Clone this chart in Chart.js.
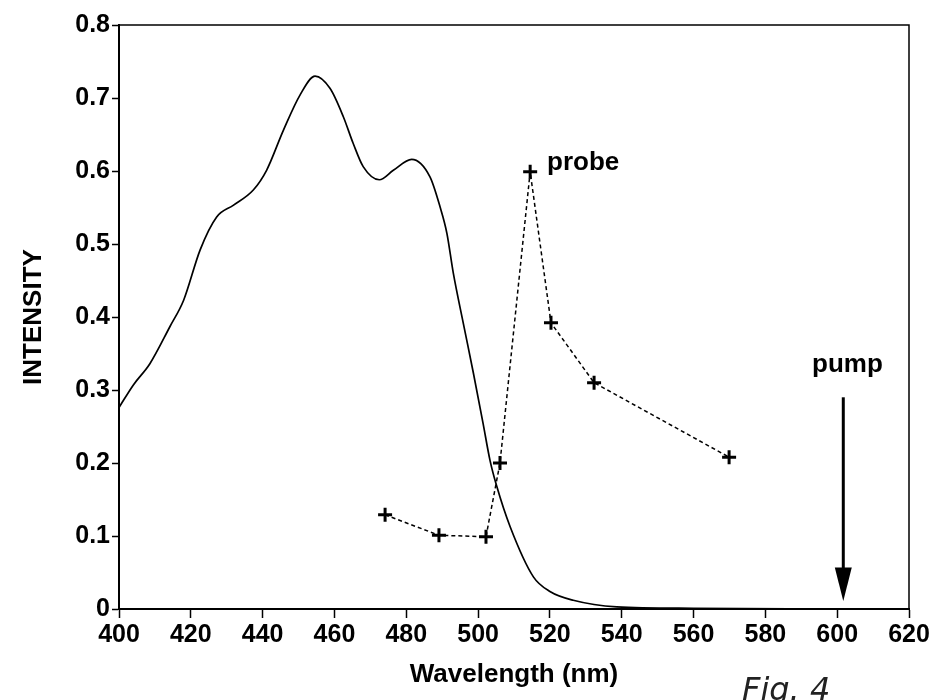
<!DOCTYPE html>
<html>
<head>
<meta charset="utf-8">
<script src="https://cdn.jsdelivr.net/npm/chart.js@4/dist/chart.umd.min.js"></script>
<style>
  html, body { margin: 0; padding: 0; background: #fff; }
  #wrap { width: 943px; height: 700px; position: relative; }
</style>
</head>
<body>
<div id="wrap"><canvas id="c" width="943" height="700"></canvas></div>
<script>
// Solid curve: wavelength (nm) and intensity
const spectrumWavelength = [400, 404, 408.6, 414.2, 418, 422.6, 427.2, 431.8, 437.4, 441.1, 445.8, 450.4, 454.6, 458.8, 462.5, 465.2, 468, 472.5, 476.4, 481.5, 486.6, 489.4, 491.3, 493.1, 495.9, 498.7, 501.4, 503.3, 505.2, 508.9, 515.4, 520, 526.5, 538.6, 560, 600];
const spectrumIntensity  = [0.276, 0.307, 0.336, 0.387, 0.423, 0.492, 0.537, 0.553, 0.574, 0.601, 0.656, 0.704, 0.730, 0.713, 0.674, 0.638, 0.606, 0.588, 0.601, 0.616, 0.592, 0.551, 0.515, 0.460, 0.391, 0.323, 0.254, 0.204, 0.168, 0.113, 0.044, 0.024, 0.012, 0.003, 0.001, 0];

// Probe points (dashed, + markers)
const probeWavelength = [474.1, 489.1, 502.2, 506.1, 514.5, 520.3, 532.3, 569.9];
const probeIntensity  = [0.129, 0.101, 0.099, 0.200, 0.599, 0.392, 0.310, 0.208];

// Axis ticks
const xTicks = [400, 420, 440, 460, 480, 500, 520, 540, 560, 580, 600, 620];
const yTicks = [0, 0.1, 0.2, 0.3, 0.4, 0.5, 0.6, 0.7, 0.8];
const yTickLabels = ['0', '0.1', '0.2', '0.3', '0.4', '0.5', '0.6', '0.7', '0.8'];

// Annotations (data coordinates)
const probeLabel = { text: 'probe', x: 519.2, y: 0.601 };
const pumpLabel = { text: 'pump', x: 593.0, y: 0.325 };
const pumpArrow = { x: 601.7, yTop: 0.29, yTip: 0.011, headLen: 0.046 };
const figCaption = 'Fig. 4';

const FONT = '"Liberation Sans", Arial, Helvetica, sans-serif';

const spectrumData = spectrumWavelength.map((x, i) => ({ x, y: spectrumIntensity[i] }));
const probeData = probeWavelength.map((x, i) => ({ x, y: probeIntensity[i] }));

const framePlugin = {
  id: 'frame',
  afterDraw(chart) {
    const { ctx, chartArea: a, scales } = chart;
    const xs = scales.x, ys = scales.y;
    ctx.save();
    // top and right borders
    ctx.strokeStyle = '#000';
    ctx.lineWidth = 1.5;
    ctx.beginPath();
    ctx.moveTo(a.left, a.top);
    ctx.lineTo(a.right, a.top);
    ctx.lineTo(a.right, a.bottom);
    ctx.stroke();

    // labels
    ctx.fillStyle = '#000';
    ctx.font = 'bold 26px ' + FONT;
    ctx.textBaseline = 'alphabetic';
    ctx.textAlign = 'left';
    ctx.fillText(probeLabel.text, xs.getPixelForValue(probeLabel.x), ys.getPixelForValue(probeLabel.y));
    ctx.fillText(pumpLabel.text, xs.getPixelForValue(pumpLabel.x), ys.getPixelForValue(pumpLabel.y));

    // arrow
    const ax = xs.getPixelForValue(pumpArrow.x);
    const yTop = ys.getPixelForValue(pumpArrow.yTop);
    const yTip = ys.getPixelForValue(pumpArrow.yTip);
    const yHead = ys.getPixelForValue(pumpArrow.yTip + pumpArrow.headLen);
    ctx.lineWidth = 3;
    ctx.beginPath();
    ctx.moveTo(ax, yTop);
    ctx.lineTo(ax, yHead + 2);
    ctx.stroke();
    ctx.beginPath();
    ctx.moveTo(ax - 8.5, yHead);
    ctx.lineTo(ax + 8.5, yHead);
    ctx.lineTo(ax, yTip);
    ctx.closePath();
    ctx.fill();

    // handwritten caption
    ctx.font = 'italic 300 32px "DejaVu Sans", sans-serif';
    ctx.fillStyle = '#222';
    ctx.fillText(figCaption, 742, 700);
    ctx.restore();
  }
};

new Chart(document.getElementById('c'), {
  type: 'scatter',
  data: {
    datasets: [
      {
        label: 'spectrum',
        data: spectrumData,
        showLine: true,
        borderColor: '#000',
        borderWidth: 1.7,
        pointRadius: 0,
        cubicInterpolationMode: 'monotone',
        fill: false
      },
      {
        label: 'probe',
        data: probeData,
        showLine: true,
        borderColor: '#000',
        borderWidth: 1.5,
        borderDash: [4, 3],
        pointStyle: 'cross',
        pointRadius: 7,
        pointBorderWidth: 3,
        pointBorderColor: '#000',
        pointBackgroundColor: '#000',
        tension: 0,
        fill: false
      }
    ]
  },
  options: {
    responsive: false,
    animation: false,
    devicePixelRatio: 1,
    layout: { padding: { top: 25, right: 34, left: 0, bottom: 0 } },
    plugins: { legend: { display: false }, tooltip: { enabled: false } },
    scales: {
      x: {
        type: 'linear',
        min: 400, max: 620,
        afterBuildTicks(scale) { scale.ticks = xTicks.map(v => ({ value: v })); },
        afterFit(scale) { scale.height = 91; },
        ticks: {
          color: '#000',
          font: { family: FONT, size: 25, weight: 'bold' },
          padding: 2,
          maxRotation: 0,
          autoSkip: false,
          callback: v => String(v)
        },
        grid: { display: true, drawOnChartArea: false, drawTicks: true, tickLength: 9, color: '#000', tickWidth: 1.5 },
        border: { display: true, color: '#000', width: 2 },
        title: { display: true, text: 'Wavelength (nm)', color: '#000', font: { family: FONT, size: 26, weight: 'bold' }, padding: { top: 0, bottom: 10 } }
      },
      y: {
        type: 'linear',
        min: 0, max: 0.8,
        afterBuildTicks(scale) { scale.ticks = yTicks.map(v => ({ value: v })); },
        afterFit(scale) { scale.width = 119; },
        ticks: {
          color: '#000',
          font: { family: FONT, size: 25, weight: 'bold' },
          padding: 2,
          autoSkip: false,
          callback: (v) => { const i = yTicks.findIndex(t => Math.abs(t - v) < 1e-9); return i >= 0 ? yTickLabels[i] : ''; }
        },
        grid: { display: true, drawOnChartArea: false, drawTicks: true, tickLength: 7, color: '#000', tickWidth: 1.5 },
        border: { display: true, color: '#000', width: 2 },
        title: { display: true, text: 'INTENSITY', color: '#000', font: { family: FONT, size: 26, weight: 'bold' }, padding: { top: 18, bottom: 0 } }
      }
    }
  },
  plugins: [framePlugin]
});
</script>
</body>
</html>
